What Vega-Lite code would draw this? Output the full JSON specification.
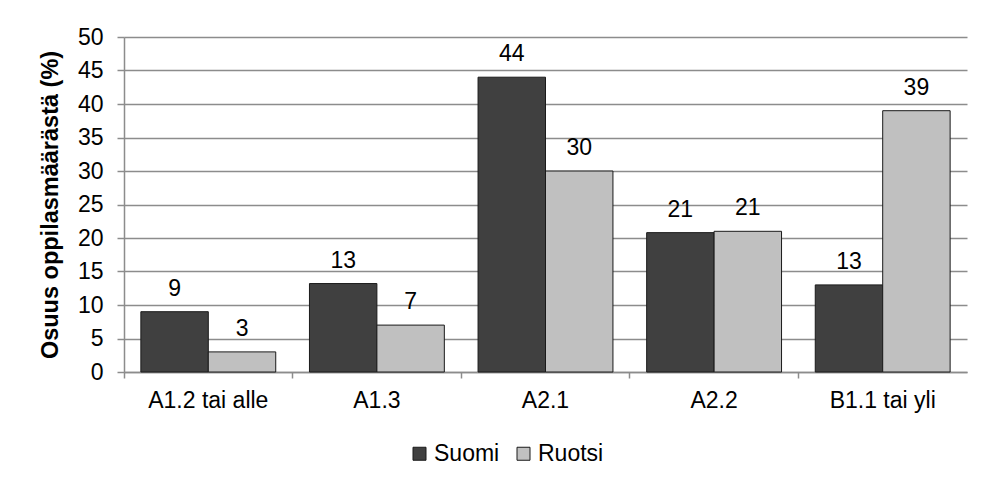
{
  "$schema": "https://vega.github.io/schema/vega-lite/v6.json",
  "autosize": "none",
  "width": 843,
  "height": 335,
  "padding": {"left": 124, "top": 37, "right": 20, "bottom": 112},
  "background": "white",
  "config": {
    "font": "Liberation Sans",
    "view": {"stroke": null},
    "axis": {"labelFont": "Liberation Sans", "titleFont": "Liberation Sans", "labelColor": "#000000", "titleColor": "#000000"}
  },
  "data": {
    "values": [
      {"taso": "A1.2 tai alle", "kieli": "Suomi", "osuus": 9},
      {"taso": "A1.2 tai alle", "kieli": "Ruotsi", "osuus": 3},
      {"taso": "A1.3", "kieli": "Suomi", "osuus": 13.2},
      {"taso": "A1.3", "kieli": "Ruotsi", "osuus": 7},
      {"taso": "A2.1", "kieli": "Suomi", "osuus": 44},
      {"taso": "A2.1", "kieli": "Ruotsi", "osuus": 30},
      {"taso": "A2.2", "kieli": "Suomi", "osuus": 20.8},
      {"taso": "A2.2", "kieli": "Ruotsi", "osuus": 21},
      {"taso": "B1.1 tai yli", "kieli": "Suomi", "osuus": 13},
      {"taso": "B1.1 tai yli", "kieli": "Ruotsi", "osuus": 39}
    ]
  },
  "encoding": {
    "x": {
      "field": "taso",
      "type": "nominal",
      "sort": ["A1.2 tai alle", "A1.3", "A2.1", "A2.2", "B1.1 tai yli"],
      "scale": {"paddingInner": 0, "paddingOuter": 0},
      "axis": {
        "title": null,
        "labelAngle": 0,
        "labelFontSize": 23,
        "bandPosition": 0,
        "labelPadding": 11,
        "tickSize": 6,
        "tickColor": "#8c8c8c",
        "tickWidth": 1.5,
        "domainColor": "#8c8c8c",
        "domainWidth": 1.5,
        "grid": false
      }
    },
    "xOffset": {
      "field": "kieli",
      "sort": ["Suomi", "Ruotsi"],
      "scale": {"paddingInner": 0, "paddingOuter": 0.25}
    },
    "y": {
      "field": "osuus",
      "type": "quantitative",
      "scale": {"domain": [0, 50]},
      "axis": {
        "title": "Osuus oppilasmäärästä (%)",
        "titleFontSize": 23.5,
        "titleFontWeight": "bold",
        "titlePadding": 15,
        "values": [0, 5, 10, 15, 20, 25, 30, 35, 40, 45, 50],
        "labelFontSize": 23,
        "labelPadding": 14,
        "tickSize": 7,
        "tickColor": "#8c8c8c",
        "tickWidth": 1.5,
        "domainColor": "#8c8c8c",
        "domainWidth": 1.5,
        "grid": true,
        "gridColor": "#8c8c8c",
        "gridWidth": 1.5
      }
    }
  },
  "layer": [
    {
      "mark": {"type": "bar", "stroke": "#1a1a1a", "strokeWidth": 1},
      "encoding": {
        "color": {
          "field": "kieli",
          "type": "nominal",
          "sort": ["Suomi", "Ruotsi"],
          "scale": {"domain": ["Suomi", "Ruotsi"], "range": ["#404040", "#c0c0c0"]},
          "legend": {
            "title": null,
            "orient": "none",
            "direction": "horizontal",
            "legendX": 284,
            "legendY": 405,
            "symbolType": "square",
            "symbolSize": 169,
            "symbolStrokeColor": "#1a1a1a",
            "symbolStrokeWidth": 1,
            "labelFontSize": 23,
            "labelFont": "Liberation Sans",
            "labelColor": "#000000",
            "labelOffset": 3,
            "columnPadding": 12
          }
        }
      }
    },
    {
      "mark": {"type": "text", "dy": -23, "fontSize": 23, "font": "Liberation Sans", "color": "#000000"},
      "encoding": {"text": {"field": "osuus", "type": "quantitative", "format": ".0f"}}
    }
  ]
}
